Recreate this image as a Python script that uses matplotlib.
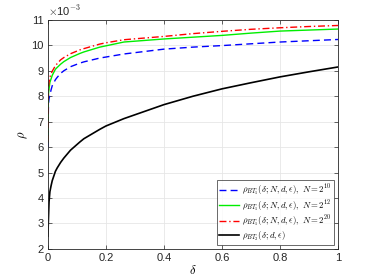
import numpy as np
import matplotlib.pyplot as plt

# values, rho in units of 1e-3
delta = [0, 0.002, 0.004, 0.007, 0.011, 0.015, 0.026, 0.032, 0.044, 0.055,
         0.078, 0.11, 0.124, 0.179, 0.2, 0.262, 0.4, 0.5, 0.6, 0.7, 0.8,
         0.9, 1.0]
rho_n10 = [6.0, 7.7, 7.9, 8.05, 8.25, 8.41, 8.65, 8.74, 8.9, 9.0,
           9.16, 9.3, 9.35, 9.5, 9.54, 9.66, 9.85, 9.93, 9.99, 10.06, 10.13,
           10.18, 10.23]
rho_n12 = [6.2, 8.1, 8.28, 8.55, 8.68, 8.82, 9.06, 9.13, 9.26, 9.36,
           9.52, 9.68, 9.74, 9.93, 9.98, 10.13, 10.25, 10.32, 10.39, 10.48,
           10.56, 10.6, 10.64]
rho_n20 = [6.2, 8.35, 8.55, 8.75, 8.88, 8.98, 9.2, 9.28, 9.43, 9.52,
           9.67, 9.82, 9.87, 10.05, 10.1, 10.22, 10.35, 10.46, 10.55, 10.63,
           10.69, 10.74, 10.78]
rho_bt2 = [2.5, 3.2, 3.85, 4.25, 4.48, 4.68, 5.05, 5.18, 5.4, 5.57,
           5.88, 6.2, 6.33, 6.7, 6.83, 7.12, 7.67, 8.0, 8.29, 8.53, 8.76,
           8.96, 9.15]

plt.rcParams['font.family'] = ['Liberation Sans', 'DejaVu Sans']
plt.rcParams['mathtext.fontset'] = 'cm'

fig = plt.figure(figsize=(3.74, 2.8), dpi=100)
ax = fig.add_axes([0.128, 0.111, 0.776, 0.818])

ax.plot(delta, rho_n10, color='blue', ls=(0, (5, 3)), lw=1.0,
        label=r'$\rho_{BT_1}(\delta;N,d,\epsilon),\ N=2^{10}$')
ax.plot(delta, rho_n12, color='#00ee00', ls='-', lw=1.0,
        label=r'$\rho_{BT_1}(\delta;N,d,\epsilon),\ N=2^{12}$')
ax.plot(delta, rho_n20, color='red', ls=(0, (5, 2, 1, 2)), lw=1.0,
        label=r'$\rho_{BT_1}(\delta;N,d,\epsilon),\ N=2^{20}$')
ax.plot(delta, rho_bt2, color='black', ls='-', lw=1.2,
        label=r'$\rho_{BT_2}(\delta;d,\epsilon)$')

ax.set_xlim(0, 1)
ax.set_ylim(2, 11)
ax.set_xticks([0, 0.2, 0.4, 0.6, 0.8, 1])
ax.set_xticklabels(['0', '0.2', '0.4', '0.6', '0.8', '1'])
ax.set_yticks(range(2, 12))
ax.grid(True, color='#e6e6e6', lw=0.6)
ax.set_axisbelow(True)
for s in ax.spines.values():
    s.set_color('#262626')
    s.set_linewidth(0.6)
ax.tick_params(direction='in', top=True, right=True, length=3, width=0.5,
               labelsize=8, colors='#262626', pad=3)

ax.text(0, 1.008, r'$\times$10$^{-3}$', transform=ax.transAxes, fontsize=8,
        color='#262626', ha='left', va='bottom')
ax.set_xlabel(r'$\delta$', fontsize=9, labelpad=1)
ax.set_ylabel(r'$\rho$', fontsize=9, labelpad=1)

leg = ax.legend(loc='lower right', fontsize=6.3, frameon=True, fancybox=False,
                edgecolor='#262626', handlelength=2.3, borderpad=0.2,
                labelspacing=0.0, handletextpad=0.4, borderaxespad=0.5)
leg.get_frame().set_linewidth(0.6)

fig.savefig('out.png', dpi=100)
